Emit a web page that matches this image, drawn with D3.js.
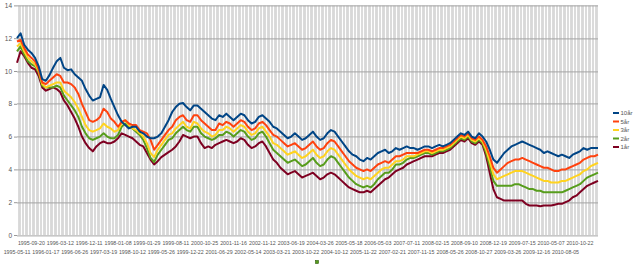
<!DOCTYPE html>
<html>
<head>
<meta charset="utf-8">
<script src="https://cdn.jsdelivr.net/npm/d3@7"></script>
<style>
  body { margin: 0; background: #fff; }
  svg { display: block; font-family: "Liberation Sans", "DejaVu Sans", sans-serif; }
</style>
</head>
<body>
<div id="chart"></div>
<script>
// dates shown on the category axis (every 4th category)
const tickLabels = [
  "1995-05-11","1995-09-20","1996-01-17","1996-03-12","1996-06-26","1996-12-11","1997-03-19","1998-01-08",
  "1998-10-12","1999-01-29","1999-05-26","1999-08-11","1999-12-22","2000-10-25","2001-06-29","2001-11-16",
  "2002-05-14","2002-11-12","2003-03-21","2003-06-19","2003-10-22","2004-03-26","2004-10-12","2005-05-18",
  "2005-11-22","2006-05-03","2007-02-21","2007-07-11","2007-11-15","2008-02-15","2008-05-26","2008-09-10",
  "2008-10-27","2008-12-19","2009-03-26","2009-07-15","2009-12-16","2010-05-07","2010-08-05","2010-10-22"
]
const tickEvery = 4

const seriesNames = ["10år", "5år", "3år", "2år", "1år"]
const seriesColors = ["#004586", "#ff420e", "#ffd320", "#579d1c", "#7e0021"]

const y10 = [
  12.0,12.3,11.6,11.3,11.1,10.8,10.3,9.5,9.4,9.75,
  10.2,10.6,10.8,10.2,10.05,10.1,9.8,9.6,9.4,8.9,
  8.5,8.2,8.3,8.4,9.15,8.85,8.3,7.8,7.3,6.9,
  6.7,6.5,6.6,6.6,6.3,6.2,6.0,5.9,5.9,6.0,
  6.2,6.6,7.0,7.5,7.8,8.0,8.05,7.8,7.6,7.9,
  7.9,7.7,7.5,7.3,7.1,7.0,7.3,7.2,7.4,7.2,
  7.0,7.2,7.4,7.3,7.0,6.8,6.9,7.2,7.3,7.1,
  6.9,6.6,6.5,6.3,6.1,5.9,6.0,6.2,6.0,5.8,
  5.9,6.1,6.3,6.0,5.8,5.9,6.2,6.4,6.3,6.0,
  5.7,5.4,5.1,4.9,4.8,4.6,4.5,4.7,4.6,4.8,
  5.0,5.1,5.2,5.0,5.1,5.3,5.2,5.3,5.4,5.3,
  5.3,5.2,5.3,5.4,5.4,5.3,5.4,5.5,5.4,5.5,
  5.6,5.8,6.0,6.2,6.1,6.3,6.0,5.9,6.2,6.0,
  5.7,5.2,4.6,4.4,4.7,5.0,5.2,5.4,5.5,5.6,
  5.7,5.6,5.5,5.4,5.3,5.2,5.0,5.1,5.0,4.9,
  4.8,4.9,4.8,4.7,4.9,5.0,5.1,5.3,5.2,5.3,
  5.3,5.3
]
const y5 = [
  11.8,11.9,11.4,11.0,10.8,10.6,10.1,9.3,9.2,9.4,
  9.6,9.8,9.7,9.3,9.3,9.2,9.0,8.6,8.0,7.5,
  7.0,6.9,7.0,7.2,7.7,7.5,7.1,6.9,6.6,6.9,
  7.0,6.8,6.7,6.7,6.4,6.3,6.2,5.8,5.2,5.5,
  5.8,6.1,6.4,6.6,7.0,7.2,7.3,7.0,6.9,7.3,
  7.3,7.0,6.8,6.6,6.4,6.4,6.8,6.7,6.9,6.8,
  6.6,6.8,7.0,6.9,6.6,6.4,6.5,6.8,6.9,6.7,
  6.4,6.1,6.0,5.8,5.6,5.4,5.5,5.6,5.4,5.2,
  5.3,5.5,5.7,5.4,5.2,5.3,5.6,5.8,5.7,5.4,
  5.1,4.8,4.5,4.3,4.1,4.0,3.9,4.0,3.9,4.1,
  4.3,4.4,4.5,4.4,4.6,4.8,4.8,4.9,5.0,5.0,
  5.0,5.0,5.1,5.2,5.2,5.1,5.2,5.3,5.3,5.4,
  5.5,5.7,5.9,6.1,6.0,6.2,5.9,5.8,6.0,5.8,
  5.4,4.8,4.1,3.8,4.0,4.2,4.4,4.5,4.6,4.6,
  4.7,4.6,4.5,4.4,4.3,4.2,4.1,4.1,4.0,3.9,
  3.9,4.0,4.0,4.1,4.2,4.3,4.4,4.6,4.7,4.8,
  4.8,4.9
]
const y3 = [
  11.5,11.7,11.2,10.8,10.6,10.4,10.0,9.2,9.0,9.1,
  9.2,9.3,9.3,8.8,8.6,8.4,8.1,7.7,7.2,6.7,
  6.4,6.3,6.4,6.5,6.8,6.6,6.5,6.3,6.4,6.8,
  7.0,6.7,6.5,6.4,6.2,6.0,5.6,5.0,4.75,5.2,
  5.5,5.8,6.1,6.2,6.5,6.7,6.9,6.6,6.5,6.9,
  6.8,6.5,6.3,6.2,6.0,6.1,6.4,6.4,6.6,6.5,
  6.3,6.5,6.7,6.6,6.3,6.1,6.2,6.5,6.6,6.3,
  6.0,5.6,5.5,5.3,5.1,4.9,5.0,5.1,4.9,4.7,
  4.8,5.0,5.2,4.9,4.7,4.8,5.1,5.3,5.2,4.9,
  4.6,4.3,4.0,3.8,3.6,3.5,3.4,3.5,3.4,3.6,
  3.8,4.0,4.1,4.1,4.3,4.5,4.5,4.6,4.8,4.8,
  4.8,4.9,5.0,5.1,5.1,5.0,5.1,5.2,5.2,5.3,
  5.4,5.6,5.8,6.0,5.9,6.1,5.8,5.7,5.9,5.7,
  5.2,4.5,3.7,3.4,3.5,3.6,3.7,3.8,3.9,3.9,
  3.9,3.8,3.7,3.6,3.5,3.4,3.3,3.3,3.2,3.2,
  3.2,3.3,3.3,3.4,3.5,3.6,3.7,3.9,4.0,4.2,
  4.3,4.4
]
const y2 = [
  11.2,11.5,11.0,10.6,10.4,10.3,9.9,9.1,9.0,9.0,
  9.0,9.1,9.0,8.5,8.2,7.9,7.6,7.2,6.6,6.2,
  5.9,5.8,5.9,6.0,6.2,6.0,5.9,5.9,6.1,6.6,
  6.8,6.6,6.5,6.3,6.1,5.8,5.3,4.7,4.45,4.9,
  5.2,5.5,5.8,5.9,6.2,6.4,6.6,6.4,6.3,6.6,
  6.6,6.2,6.0,5.9,5.8,5.9,6.1,6.1,6.3,6.2,
  6.0,6.2,6.4,6.3,6.0,5.8,5.9,6.2,6.3,6.0,
  5.6,5.2,5.0,4.8,4.6,4.4,4.5,4.6,4.4,4.2,
  4.3,4.5,4.7,4.4,4.2,4.3,4.6,4.8,4.7,4.4,
  4.1,3.8,3.5,3.3,3.1,3.0,2.9,3.0,2.9,3.1,
  3.4,3.6,3.8,3.8,4.0,4.3,4.3,4.4,4.6,4.7,
  4.7,4.8,4.9,5.0,5.0,4.9,5.0,5.1,5.1,5.2,
  5.3,5.5,5.7,5.9,5.8,6.0,5.7,5.6,5.8,5.6,
  5.0,4.2,3.3,3.0,3.0,3.0,3.0,3.0,3.1,3.1,
  3.0,2.9,2.8,2.8,2.7,2.7,2.6,2.6,2.6,2.6,
  2.6,2.6,2.7,2.8,2.9,3.0,3.1,3.3,3.5,3.6,
  3.7,3.8
]
const y1 = [
  10.5,11.2,10.9,10.5,10.2,10.1,9.7,9.0,8.8,8.9,
  9.0,8.9,8.7,8.2,7.9,7.5,7.1,6.6,6.0,5.6,
  5.3,5.1,5.4,5.6,5.7,5.6,5.6,5.7,5.9,6.2,
  6.1,6.0,5.9,5.7,5.5,5.4,5.0,4.6,4.3,4.5,
  4.75,4.9,5.05,5.2,5.4,5.7,6.1,6.0,5.9,6.0,
  6.0,5.6,5.3,5.4,5.3,5.5,5.6,5.7,5.8,5.7,
  5.6,5.7,5.9,5.8,5.5,5.3,5.4,5.6,5.7,5.4,
  5.0,4.6,4.4,4.1,3.9,3.7,3.8,3.9,3.7,3.5,
  3.6,3.7,3.8,3.6,3.4,3.5,3.7,3.8,3.7,3.5,
  3.3,3.1,2.9,2.8,2.7,2.6,2.6,2.7,2.6,2.8,
  3.0,3.2,3.4,3.5,3.7,3.9,4.0,4.1,4.3,4.4,
  4.5,4.6,4.7,4.8,4.8,4.8,4.9,5.0,5.0,5.1,
  5.2,5.4,5.6,5.8,5.7,5.9,5.6,5.5,5.7,5.5,
  4.8,3.8,2.8,2.3,2.2,2.1,2.1,2.1,2.1,2.1,
  2.1,1.9,1.8,1.8,1.8,1.75,1.8,1.8,1.8,1.85,
  1.9,1.9,2.0,2.1,2.3,2.4,2.6,2.8,3.0,3.1,
  3.2,3.3
]
const seriesValues = [y10, y5, y3, y2, y1]
const yTicks = [0, 2, 4, 6, 8, 10, 12, 14]

const width = 640, height = 265
const margin = {top: 5.4, right: 42, bottom: 30, left: 17}
const innerW = width - margin.left - margin.right
const innerH = height - margin.top - margin.bottom

const svg = d3.select("#chart").append("svg")
    .attr("width", width)
    .attr("height", height)

const g = svg.append("g")
    .attr("transform", "translate(" + margin.left + "," + margin.top + ")")

const n = y10.length
const x = d3.scaleLinear().domain([0, n - 1]).range([0, innerW])
const y = d3.scaleLinear().domain([0, 14]).range([innerH, 0])

// wall
g.append("rect")
    .attr("width", innerW)
    .attr("height", innerH)
    .attr("fill", "#d8d8d8")

// white vertical lines, one per category
g.append("g").selectAll("line")
    .data(d3.range(n))
    .join("line")
    .attr("x1", i => Math.round(x(i)) + 0.5)
    .attr("x2", i => Math.round(x(i)) + 0.5)
    .attr("y1", 0)
    .attr("y2", innerH)
    .attr("stroke", "#fff")
    .attr("stroke-width", 1.2)

// horizontal grid
g.append("g").selectAll("line")
    .data(yTicks)
    .join("line")
    .attr("x1", 0)
    .attr("x2", innerW)
    .attr("y1", d => Math.round(y(d)) + 0.5)
    .attr("y2", d => Math.round(y(d)) + 0.5)
    .attr("stroke", "#a3a3a3")
    .attr("stroke-width", 1)

// y axis
const yAxis = d3.axisLeft(y).tickValues(yTicks).tickSize(3).tickPadding(2)
const ya = g.append("g").call(yAxis)
ya.select(".domain").remove()
ya.selectAll(".tick line").attr("stroke", "#999")
ya.selectAll("text").attr("font-size", 6.5).attr("fill", "#555")
    .style("font-family", "'Liberation Sans', 'DejaVu Sans', sans-serif")

// category labels, staggered in two rows
g.append("g").selectAll("text")
    .data(tickLabels)
    .join("text")
    .attr("x", (d, k) => x(k * tickEvery))
    .attr("y", (d, k) => innerH + (k % 2 === 1 ? 10 : 19))
    .attr("text-anchor", "middle")
    .attr("font-size", 5.3)
    .attr("fill", "#555")
    .text(d => d)

// lines
const line = d3.line()
    .x((d, i) => x(i))
    .y(d => y(d))

g.append("g").selectAll("path")
    .data(seriesValues.map((v, s) => ({ v, s })).reverse())
    .join("path")
    .attr("d", d => line(d.v))
    .attr("fill", "none")
    .attr("stroke", d => seriesColors[d.s])
    .attr("stroke-width", 2)
    .attr("stroke-linejoin", "round")

// legend
const legend = svg.append("g").attr("transform", "translate(613,113)")
const item = legend.selectAll("g")
    .data(seriesNames)
    .join("g")
    .attr("transform", (d, i) => "translate(0," + i * 8.5 + ")")
item.append("line")
    .attr("x1", 0).attr("x2", 6)
    .attr("stroke", (d, i) => seriesColors[i])
    .attr("stroke-width", 2)
item.append("text")
    .attr("x", 7.5)
    .attr("dy", "0.35em")
    .attr("font-size", 6)
    .attr("fill", "#555")
    .text(d => d)

// stray marker below the axis
svg.append("rect")
    .attr("x", 315.5).attr("y", 260.5)
    .attr("width", 3).attr("height", 3)
    .attr("fill", "#579d1c")
    .attr("stroke", "#2d5a0c")
    .attr("stroke-width", 0.6)
</script>
</body>
</html>
